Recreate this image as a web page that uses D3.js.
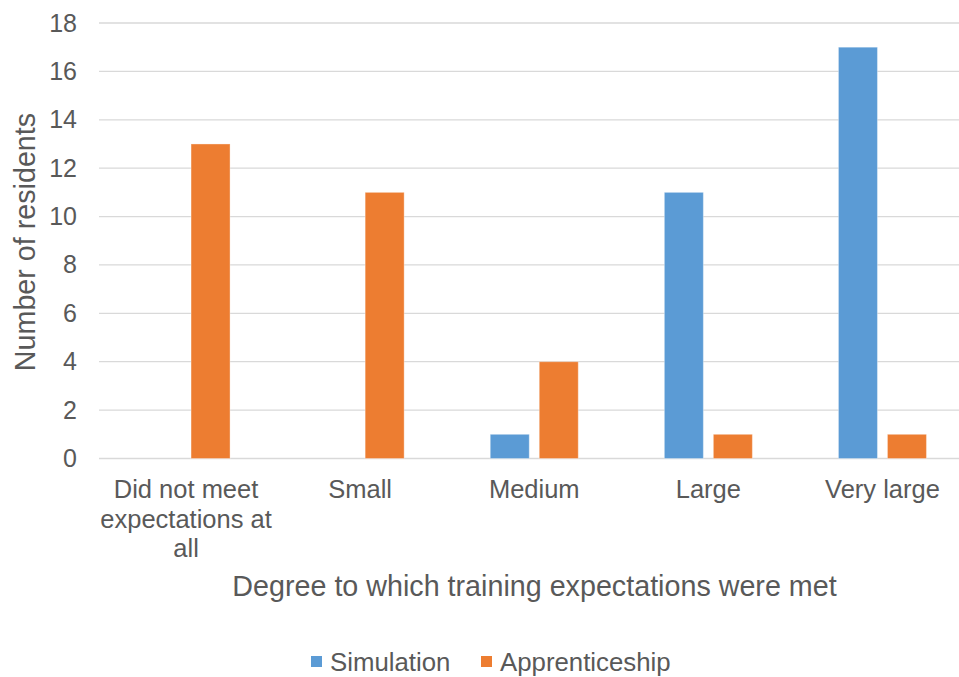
<!DOCTYPE html>
<html>
<head>
<meta charset="utf-8">
<script src="https://cdn.jsdelivr.net/npm/d3@7"></script>
<style>
  html, body { margin: 0; padding: 0; background: #fff; }
  svg { display: block; font-family: "Liberation Sans", Arial, sans-serif; }
</style>
</head>
<body>
<svg id="chart" width="959" height="677"></svg>
<script>
// Residents' ratings, grouped by training method
const categories = [
  ["Did not meet", "expectations at", "all"],
  ["Small"],
  ["Medium"],
  ["Large"],
  ["Very large"]
];
const seriesNames = ["Simulation", "Apprenticeship"];
const simulation = [0, 0, 1, 11, 17];
const apprenticeship = [13, 11, 4, 1, 1];
const yTicks = [0, 2, 4, 6, 8, 10, 12, 14, 16, 18];
const colors = ["#5B9BD5", "#ED7D31"];

const svg = d3.select("#chart");
const textColor = "#595959";
const tickSize = 25;
const catSize = 25.5;
const titleSize = 28.7;
const legendSize = 25.8;

const catKeys = categories.map((c, i) => i);
const x0 = d3.scaleBand().domain(catKeys).range([99, 969.5]).padding(0);
const x1 = d3.scaleBand().domain(seriesNames).range([-44, 44]).paddingInner(10 / 49).paddingOuter(0);
const y = d3.scaleLinear().domain([0, 18]).range([458.5, 23]);

// Horizontal gridlines (including the baseline)
svg.append("g")
  .selectAll("line")
  .data(yTicks)
  .join("line")
  .attr("x1", 99)
  .attr("x2", 969.5)
  .attr("y1", d => y(d))
  .attr("y2", d => y(d))
  .attr("stroke", "#d9d9d9")
  .attr("stroke-width", 1.3);

// Y tick labels
const yAxis = d3.axisLeft(y).tickValues(yTicks).tickSize(0).tickPadding(0);
const gy = svg.append("g").attr("transform", "translate(77,0)").call(yAxis);
gy.select(".domain").remove();
gy.selectAll("text")
  .attr("fill", textColor)
  .style("font-size", tickSize + "px")
  .style("font-family", "'Liberation Sans', Arial, sans-serif");

// Bars
const rows = catKeys.map(i => ({ i, values: [simulation[i], apprenticeship[i]] }));
const groups = svg.append("g")
  .selectAll("g")
  .data(rows)
  .join("g")
  .attr("transform", d => `translate(${x0(d.i) + x0.bandwidth() / 2},0)`);

groups.selectAll("rect")
  .data(d => d.values.map((v, k) => ({ name: seriesNames[k], value: v, k })))
  .join("rect")
  .filter(d => d.value > 0)
  .attr("x", d => x1(d.name))
  .attr("width", x1.bandwidth())
  .attr("y", d => y(d.value))
  .attr("height", d => y(0) - y(d.value))
  .attr("fill", d => colors[d.k])
  .attr("stroke", "rgba(255,255,255,0.35)")
  .attr("stroke-width", 1);

// Category labels (multi-line)
const catLabels = svg.append("g")
  .selectAll("text")
  .data(categories)
  .join("text")
  .attr("x", (d, i) => x0(i) + x0.bandwidth() / 2)
  .attr("y", 498)
  .attr("text-anchor", "middle")
  .attr("fill", textColor)
  .style("font-size", catSize + "px");
catLabels.selectAll("tspan")
  .data(d => d)
  .join("tspan")
  .attr("x", function () { return d3.select(this.parentNode).attr("x"); })
  .attr("dy", (d, j) => j === 0 ? 0 : 29.5)
  .text(d => d);

// Axis titles
svg.append("text")
  .attr("x", 534.5)
  .attr("y", 596)
  .attr("text-anchor", "middle")
  .attr("fill", textColor)
  .style("font-size", titleSize + "px")
  .text("Degree to which training expectations were met");

svg.append("text")
  .attr("transform", "translate(35,242) rotate(-90)")
  .attr("text-anchor", "middle")
  .attr("fill", textColor)
  .style("font-size", titleSize + "px")
  .text("Number of residents");

// Legend
const legendItems = [
  { name: seriesNames[0], color: colors[0], x: 311 },
  { name: seriesNames[1], color: colors[1], x: 481 }
];
const lg = svg.append("g")
  .selectAll("g")
  .data(legendItems)
  .join("g")
  .attr("transform", d => `translate(${d.x},656)`);
lg.append("rect")
  .attr("width", 11)
  .attr("height", 11)
  .attr("fill", d => d.color);
lg.append("text")
  .attr("x", 19)
  .attr("y", 14.5)
  .attr("fill", textColor)
  .style("font-size", legendSize + "px")
  .text(d => d.name);
</script>
</body>
</html>
